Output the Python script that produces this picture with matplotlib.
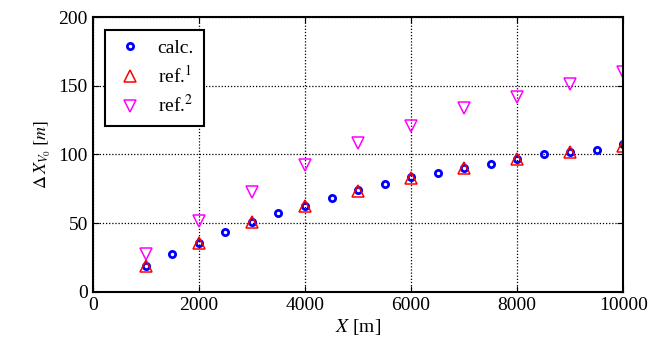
import numpy as np
import matplotlib.pyplot as plt

plt.rcParams['font.family'] = ['Liberation Serif', 'DejaVu Serif']
plt.rcParams['mathtext.fontset'] = 'stix'

# calc.
x_calc = [1000, 1500, 2000, 2500, 3000, 3500, 4000, 4500, 5000, 5500,
          6000, 6500, 7000, 7500, 8000, 8500, 9000, 9500, 10000]
y_calc = [19.2, 27.6, 35.8, 43.6, 50.5, 57.2, 62.8, 68.6, 74.1, 78.3,
          83.4, 86.5, 90.5, 93.3, 96.8, 100.6, 101.8, 103.4, 107.5]

# ref.1 und ref.2
x_ref = [1000, 2000, 3000, 4000, 5000, 6000, 7000, 8000, 9000, 10000]
y_ref1 = [19.0, 35.5, 50.5, 62.5, 73.5, 83.0, 90.5, 96.5, 101.5, 106.5]
y_ref2 = [27.4, 51.9, 73.0, 92.4, 108.0, 121.0, 133.6, 142.0, 151.0, 160.0]

fig = plt.figure(figsize=(6.63, 3.41), dpi=100)
ax = fig.add_axes([0.140, 0.144, 0.800, 0.806])

ax.plot(x_calc, y_calc, 'o', ls='none', mfc='none', mec='blue', ms=4.5, mew=2, label='calc.')
ax.plot(x_ref, y_ref1, '^', ls='none', mfc='none', mec='red', ms=9, mew=1.1, label='ref.$^1$')
ax.plot(x_ref, y_ref2, 'v', ls='none', mfc='none', mec='magenta', ms=9, mew=1.1, label='ref.$^2$')

ax.set_xlim(0, 10000)
ax.set_ylim(0, 200)
ax.set_xticks([0, 2000, 4000, 6000, 8000, 10000])
ax.set_yticks([0, 50, 100, 150, 200])
ax.grid(True, color='black', linestyle=(0, (1, 1.5)), linewidth=0.9)
ax.tick_params(direction='in', top=True, right=True, labelsize=14, length=4)
for s in ax.spines.values():
    s.set_linewidth(1.5)

ax.set_xlabel('$X$ [m]', fontsize=14, labelpad=2)
ax.set_ylabel(r'$\Delta\,X_{V_0}\;[m]$', fontsize=13)

leg = ax.legend(loc='upper left', fontsize=14, fancybox=False, edgecolor='black',
                framealpha=1, handletextpad=0.6, handlelength=1.6, borderpad=0.5,
                labelspacing=0.4, bbox_to_anchor=(0.005, 0.99))
leg.get_frame().set_linewidth(1.5)

fig.savefig('out.png', dpi=100)
